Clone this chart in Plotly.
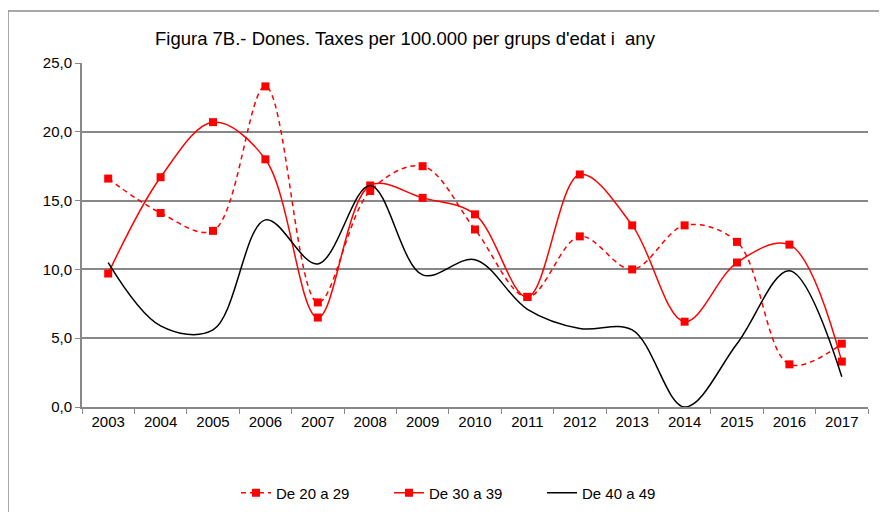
import plotly.graph_objects as go

years = ["2003", "2004", "2005", "2006", "2007", "2008", "2009", "2010",
         "2011", "2012", "2013", "2014", "2015", "2016", "2017"]
de_20_29 = [16.6, 14.1, 12.8, 23.3, 7.6, 15.7, 17.5, 12.9, 8.0, 12.4, 10.0, 13.2, 12.0, 3.1, 4.6]
de_30_39 = [9.7, 16.7, 20.7, 18.0, 6.5, 16.1, 15.2, 14.0, 8.0, 16.9, 13.2, 6.2, 10.5, 11.8, 3.3]
de_40_49 = [10.5, 5.9, 5.6, 13.6, 10.4, 16.1, 9.6, 10.7, 7.1, 5.7, 5.6, 0.0, 4.6, 9.9, 2.2]
y_ticks = [0, 5, 10, 15, 20, 25]
title_text = "Figura 7B.- Dones. Taxes per 100.000 per grups d'edat i  any"

# page body has an 8px margin; work in screen coordinates and subtract it
OFF = 8
W, H = 887 - OFF, 512 - OFF
PL, PR, PT, PB = 82, 868, 63, 407  # plot area in screen px
L, R, T, B = PL - OFF, W - (PR - OFF), PT - OFF, H - (PB - OFF)
pw, ph = W - L - R, H - T - B

def px(x):
    return (x - OFF - L) / pw

def py(y):
    return (H - B - (y - OFF)) / ph

fig = go.Figure()
fig.add_trace(go.Scatter(
    x=years, y=de_20_29, name="De 20 a 29", mode="lines+markers",
    line=dict(color="#FF0000", width=1.5, dash="5px,4px", shape="spline", smoothing=1),
    marker=dict(symbol="square", size=8, color="#FF0000")))
fig.add_trace(go.Scatter(
    x=years, y=de_30_39, name="De 30 a 39", mode="lines+markers",
    line=dict(color="#FF0000", width=1.5, shape="spline", smoothing=1),
    marker=dict(symbol="square", size=8, color="#FF0000")))
fig.add_trace(go.Scatter(
    x=years, y=de_40_49, name="De 40 a 49", mode="lines",
    line=dict(color="#000000", width=1.5, shape="spline", smoothing=1)))

fig.update_layout(
    width=W, height=H,
    margin=dict(l=L, r=R, t=T, b=B, autoexpand=False),
    paper_bgcolor="white", plot_bgcolor="white",
    separators=",.",
    font=dict(family="Liberation Sans, Arial, sans-serif", size=15, color="black"),
    showlegend=True,
    legend=dict(orientation="h", x=px(236), xanchor="left", y=py(493), yanchor="middle",
                font=dict(size=15), entrywidth=108, entrywidthmode="pixels",
                bgcolor="rgba(0,0,0,0)"),
    xaxis=dict(type="category", showgrid=False, showline=True, linecolor="#888888", linewidth=2,
               ticks="outside", tickson="boundaries", ticklen=5, tickcolor="#888888",
               tickfont=dict(size=15), range=[-0.5, 14.5], fixedrange=True),
    yaxis=dict(range=[0, 25], tickvals=y_ticks, tickformat=".1f", showgrid=True,
               gridcolor="#888888", gridwidth=1.5, showline=True, linecolor="#888888",
               linewidth=2, ticks="outside", ticklen=5, tickcolor="#888888",
               tickfont=dict(size=15), zeroline=False, fixedrange=True),
    annotations=[dict(text=title_text, xref="paper", yref="paper", x=px(153), y=py(38),
                      xanchor="left", yanchor="middle", showarrow=False,
                      font=dict(size=18.5, color="black"))],
    shapes=[dict(type="rect", xref="paper", yref="paper", x0=px(8), x1=px(900),
                 y0=py(530), y1=py(11), line=dict(color="#8c8c8c", width=1.5),
                 fillcolor="rgba(0,0,0,0)", layer="below")],
)

fig.write_html("out.html")
